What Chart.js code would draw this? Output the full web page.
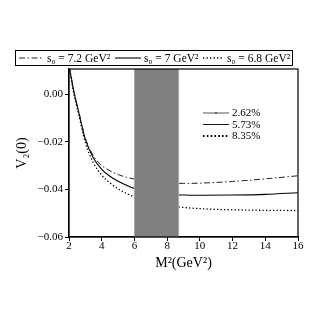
<!DOCTYPE html>
<html>
<head>
<meta charset="utf-8">
<script src="https://cdn.jsdelivr.net/npm/chart.js@4/dist/chart.umd.min.js"></script>
<style>
html,body{margin:0;padding:0;background:#fff;}
#wrap{position:relative;width:327px;height:313px;}
</style>
</head>
<body>
<div id="wrap"><canvas id="c" width="327" height="313"></canvas></div>
<script>
const xValues = [2, 2.3, 2.6, 3, 3.5, 4, 4.5, 5, 5.5, 6, 7, 8, 9, 10, 12, 14, 16];
const s0_72 = [0.012, 0.001, -0.0075, -0.0185, -0.026, -0.0300, -0.0322, -0.0338, -0.0349, -0.0357, -0.0367, -0.0373, -0.0375, -0.0374, -0.0367, -0.0356, -0.0343];
const s0_70 = [0.012, 0.001, -0.0078, -0.019, -0.0270, -0.0316, -0.0345, -0.0366, -0.0382, -0.0396, -0.0412, -0.0421, -0.0424, -0.0425, -0.0424, -0.0421, -0.0414];
const s0_68 = [0.0115, 0.0, -0.0088, -0.0205, -0.0290, -0.0340, -0.0373, -0.0398, -0.0417, -0.0432, -0.0454, -0.0467, -0.0476, -0.0481, -0.0486, -0.0488, -0.0489];
const seriesLabels = ['s\u2080 = 7.2 GeV\u00B2', 's\u2080 = 7 GeV\u00B2', 's\u2080 = 6.8 GeV\u00B2'];
const pctLabels = ['2.62%', '5.73%', '8.35%'];
const xTicks = [2, 4, 6, 8, 10, 12, 14, 16];
const yTicks = [-0.06, -0.04, -0.02, 0.00];
const yTickLabels = ['\u22120.06', '\u22120.04', '\u22120.02', '0.00'];
const band = [6, 8.7];
const xTitle = 'M\u00B2(GeV\u00B2)';
const yTitle = 'V\u2082(0)';

const SERIF = '"Liberation Serif", "DejaVu Serif", serif';
const styles = [
  {color: '#222', dash: [6, 2.5, 1.5, 2.5], width: 1},
  {color: '#000', dash: [], width: 1.1},
  {color: '#000', dash: [1.3, 2.2], width: 1.3}
];
const series = [s0_72, s0_70, s0_68];

const datasets = series.map((s, i) => ({
  label: seriesLabels[i],
  data: xValues.map((x, j) => ({x: x, y: s[j]})),
  showLine: true,
  borderColor: styles[i].color,
  borderDash: styles[i].dash,
  borderWidth: styles[i].width,
  pointRadius: 0,
  cubicInterpolationMode: 'monotone',
  fill: false
}));

function drawSample(ctx, x1, x2, y, st, dot) {
  ctx.save();
  ctx.strokeStyle = st.color;
  ctx.lineWidth = st.width;
  ctx.setLineDash(st.dash);
  ctx.beginPath();
  ctx.moveTo(x1, y);
  ctx.lineTo(x2, y);
  ctx.stroke();
  if (dot) {
    ctx.fillStyle = st.color;
    ctx.beginPath();
    ctx.arc((x1 + x2) / 2, y, 1.1, 0, Math.PI * 2);
    ctx.fill();
  }
  ctx.restore();
}

const overlay = {
  id: 'overlay',
  afterDatasetsDraw(chart) {
    const {ctx, chartArea: a, scales} = chart;
    const xs = scales.x;
    const bx1 = xs.getPixelForValue(band[0]);
    const bx2 = xs.getPixelForValue(band[1]);
    ctx.save();
    ctx.fillStyle = '#808080';
    ctx.fillRect(bx1, a.top, bx2 - bx1, a.bottom - a.top);
    ctx.strokeStyle = '#a8a8a8';
    ctx.lineWidth = 1;
    ctx.beginPath();
    ctx.moveTo(bx1, a.top); ctx.lineTo(bx1, a.bottom);
    ctx.moveTo(bx2, a.top); ctx.lineTo(bx2, a.bottom);
    ctx.stroke();
    ctx.strokeStyle = '#000';
    ctx.lineWidth = 1.2;
    ctx.strokeRect(a.left, a.top, a.right - a.left, a.bottom - a.top);
    ctx.restore();

    ctx.save();
    ctx.strokeStyle = '#000';
    ctx.lineWidth = 1;
    ctx.strokeRect(15.5, 50.5, 277, 15);
    ctx.fillStyle = '#000';
    ctx.font = '11.5px ' + SERIF;
    ctx.textBaseline = 'middle';
    ctx.textAlign = 'left';
    const ly = 58;
    const sampleX = [[19, 43], [115, 141], [203, 223]];
    const textX = [47, 144, 227];
    for (let i = 0; i < 3; i++) {
      drawSample(ctx, sampleX[i][0], sampleX[i][1], ly, styles[i], false);
      ctx.fillText(seriesLabels[i], textX[i], ly + 0.5);
    }
    const rows = [113, 124.5, 136];
    const inner = [
      {color: '#555', dash: [], width: 1},
      {color: '#000', dash: [], width: 0.9},
      {color: '#000', dash: [1.6, 2.2], width: 1.8}
    ];
    ctx.font = '11px ' + SERIF;
    for (let i = 0; i < 3; i++) {
      drawSample(ctx, 203, 229, rows[i], inner[i], i === 0);
      ctx.fillText(pctLabels[i], 232, rows[i] + 0.5);
    }
    ctx.restore();
  }
};

new Chart(document.getElementById('c'), {
  type: 'scatter',
  data: {datasets: datasets},
  plugins: [overlay],
  options: {
    responsive: false,
    animation: false,
    devicePixelRatio: 1,
    layout: {padding: {left: 0, right: 29, top: 69, bottom: 0}},
    plugins: {legend: {display: false}, tooltip: {enabled: false}},
    scales: {
      x: {
        type: 'linear',
        min: 2, max: 16,
        afterBuildTicks: s => { s.ticks = xTicks.map(v => ({value: v})); },
        afterFit: s => { s.height = 76; },
        ticks: {
          color: '#000', font: {family: SERIF, size: 11}, padding: -1,
          maxRotation: 0, autoSkip: false,
          callback: v => String(v)
        },
        grid: {drawOnChartArea: false, drawTicks: true, tickLength: 4, color: '#000'},
        border: {display: true, color: '#000', width: 1.2},
        title: {display: true, text: xTitle, color: '#000', font: {family: SERIF, size: 14}, padding: {top: 0, bottom: 41}}
      },
      y: {
        type: 'linear',
        min: -0.06, max: 0.0105,
        afterBuildTicks: s => { s.ticks = yTicks.map(v => ({value: v})); },
        afterFit: s => { s.width = 69; },
        ticks: {
          color: '#000', font: {family: SERIF, size: 11}, padding: 2,
          autoSkip: false,
          callback: (v, i) => yTickLabels[i]
        },
        grid: {drawOnChartArea: false, drawTicks: true, tickLength: 4, color: '#000'},
        border: {display: true, color: '#000', width: 1.2},
        title: {display: true, text: yTitle, color: '#000', font: {family: SERIF, size: 14}, padding: {top: 14, bottom: 0}}
      }
    }
  }
});
</script>
</body>
</html>
